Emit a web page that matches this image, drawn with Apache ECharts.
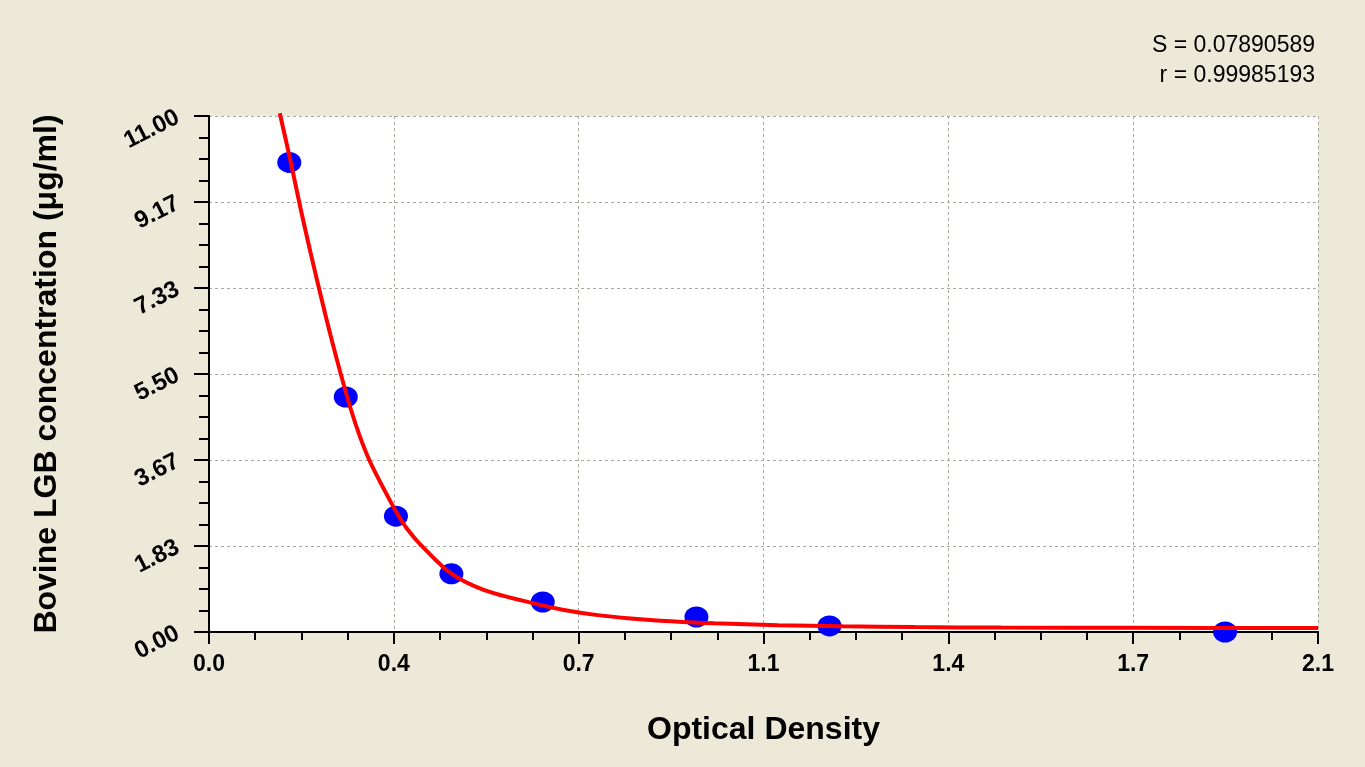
<!DOCTYPE html>
<html>
<head>
<meta charset="utf-8">
<script src="https://cdn.jsdelivr.net/npm/echarts@6/dist/echarts.min.js"></script>
<style>
  html,body{margin:0;padding:0;background:#ECE9D8;}
  #main{width:1365px;height:767px;}
</style>
</head>
<body>
<div id="main"></div>
<script>
// measured standards (OD, concentration)
var pointOD   = [0.152, 0.259, 0.354, 0.459, 0.632, 0.923, 1.175, 1.924];
var pointConc = [10.01, 5.01, 2.47, 1.24, 0.64, 0.32, 0.13, 0.0];

// fitted curve
var curveOD   = [0.134, 0.154, 0.173, 0.192, 0.211, 0.230, 0.249, 0.268, 0.286, 0.305, 0.331, 0.356, 0.375, 0.400, 0.457, 0.520, 0.615, 0.672, 0.736, 0.799, 0.875, 0.956, 1.078, 1.200, 1.336, 1.500, 1.750, 2.100];
var curveConc = [11.06, 10.06, 9.05, 8.10, 7.20, 6.33, 5.52, 4.77, 4.16, 3.63, 3.05, 2.53, 2.20, 1.87, 1.26, 0.90, 0.61, 0.47, 0.36, 0.29, 0.23, 0.185, 0.145, 0.12, 0.105, 0.094, 0.09, 0.085];

var statLines = ['S = 0.07890589', 'r = 0.99985193'];
var xTickLabels = ['0.0', '0.4', '0.7', '1.1', '1.4', '1.7', '2.1'];
var yTickLabels = ['0.00', '1.83', '3.67', '5.50', '7.33', '9.17', '11.00'];

var xMax = 2.1, yMax = 11;
var FONT = 'Liberation Sans, Arial, sans-serif';

function zip(a, b){
  var out = [];
  for (var i = 0; i < a.length; i++) out.push([a[i], b[i]]);
  return out;
}

var gridLine = {show: true, lineStyle: {color: '#A8A8A0', type: [3, 3], width: 1}};
var blackLine = {show: true, lineStyle: {color: '#000', width: 2}};

var titles = statLines.map(function(t, i){
  return {
    text: t, right: 45, top: 29 + i * 30,
    textStyle: {fontFamily: FONT, fontSize: 23, fontWeight: 'normal', color: '#000'}
  };
});

var chart = echarts.init(document.getElementById('main'));
chart.setOption({
  backgroundColor: '#ECE9D8',
  animation: false,
  title: titles,
  grid: {
    left: 209, top: 116, right: 47, bottom: 135,
    show: true, backgroundColor: '#fff', borderWidth: 0
  },
  xAxis: [{
    type: 'value', min: 0, max: xMax, interval: xMax / 6,
    name: 'Optical Density', nameLocation: 'middle', nameGap: 82,
    nameTextStyle: {fontFamily: FONT, fontSize: 32, fontWeight: 'bold', color: '#000'},
    axisLine: blackLine,
    axisTick: {show: true, inside: false, length: 12, lineStyle: {color: '#000', width: 2}},
    minorTick: {show: true, splitNumber: 4, length: 8, lineStyle: {color: '#000', width: 2}},
    axisLabel: {
      margin: 21, color: '#000', fontFamily: FONT, fontSize: 23, fontWeight: 'bold',
      formatter: function(v){ return xTickLabels[Math.round(v / (xMax / 6))]; }
    },
    splitLine: gridLine
  }, {
    type: 'value', position: 'top', min: 0, max: xMax,
    axisLine: blackLine, axisTick: {show: false}, axisLabel: {show: false}, splitLine: {show: false}
  }],
  yAxis: [{
    type: 'value', min: 0, max: yMax, interval: yMax / 6,
    name: 'Bovine LGB concentration (μg/ml)', nameLocation: 'middle', nameGap: 146,
    nameTextStyle: {fontFamily: FONT, fontSize: 32, fontWeight: 'bold', color: '#000'},
    axisLine: blackLine,
    axisTick: {show: true, inside: false, length: 15, lineStyle: {color: '#000', width: 2}},
    minorTick: {show: true, splitNumber: 4, length: 10, lineStyle: {color: '#000', width: 2}},
    axisLabel: {
      margin: 31, rotate: 27, color: '#000', fontFamily: FONT, fontSize: 24, fontWeight: 'bold',
      formatter: function(v){ return yTickLabels[Math.round(v / (yMax / 6))]; }
    },
    splitLine: gridLine
  }, {
    type: 'value', position: 'right', min: 0, max: yMax,
    axisLine: blackLine, axisTick: {show: false}, axisLabel: {show: false}, splitLine: {show: false}
  }],
  series: [
    {
      type: 'scatter',
      data: zip(pointOD, pointConc),
      symbol: 'circle',
      symbolSize: [24, 21],
      itemStyle: {color: '#0000FF', opacity: 1},
      clip: false,
      z: 2
    },
    {
      type: 'line',
      data: zip(curveOD, curveConc),
      smooth: 0.3,
      showSymbol: false,
      clip: false,
      lineStyle: {color: '#FF0000', width: 4},
      z: 3
    }
  ]
});
</script>
</body>
</html>
